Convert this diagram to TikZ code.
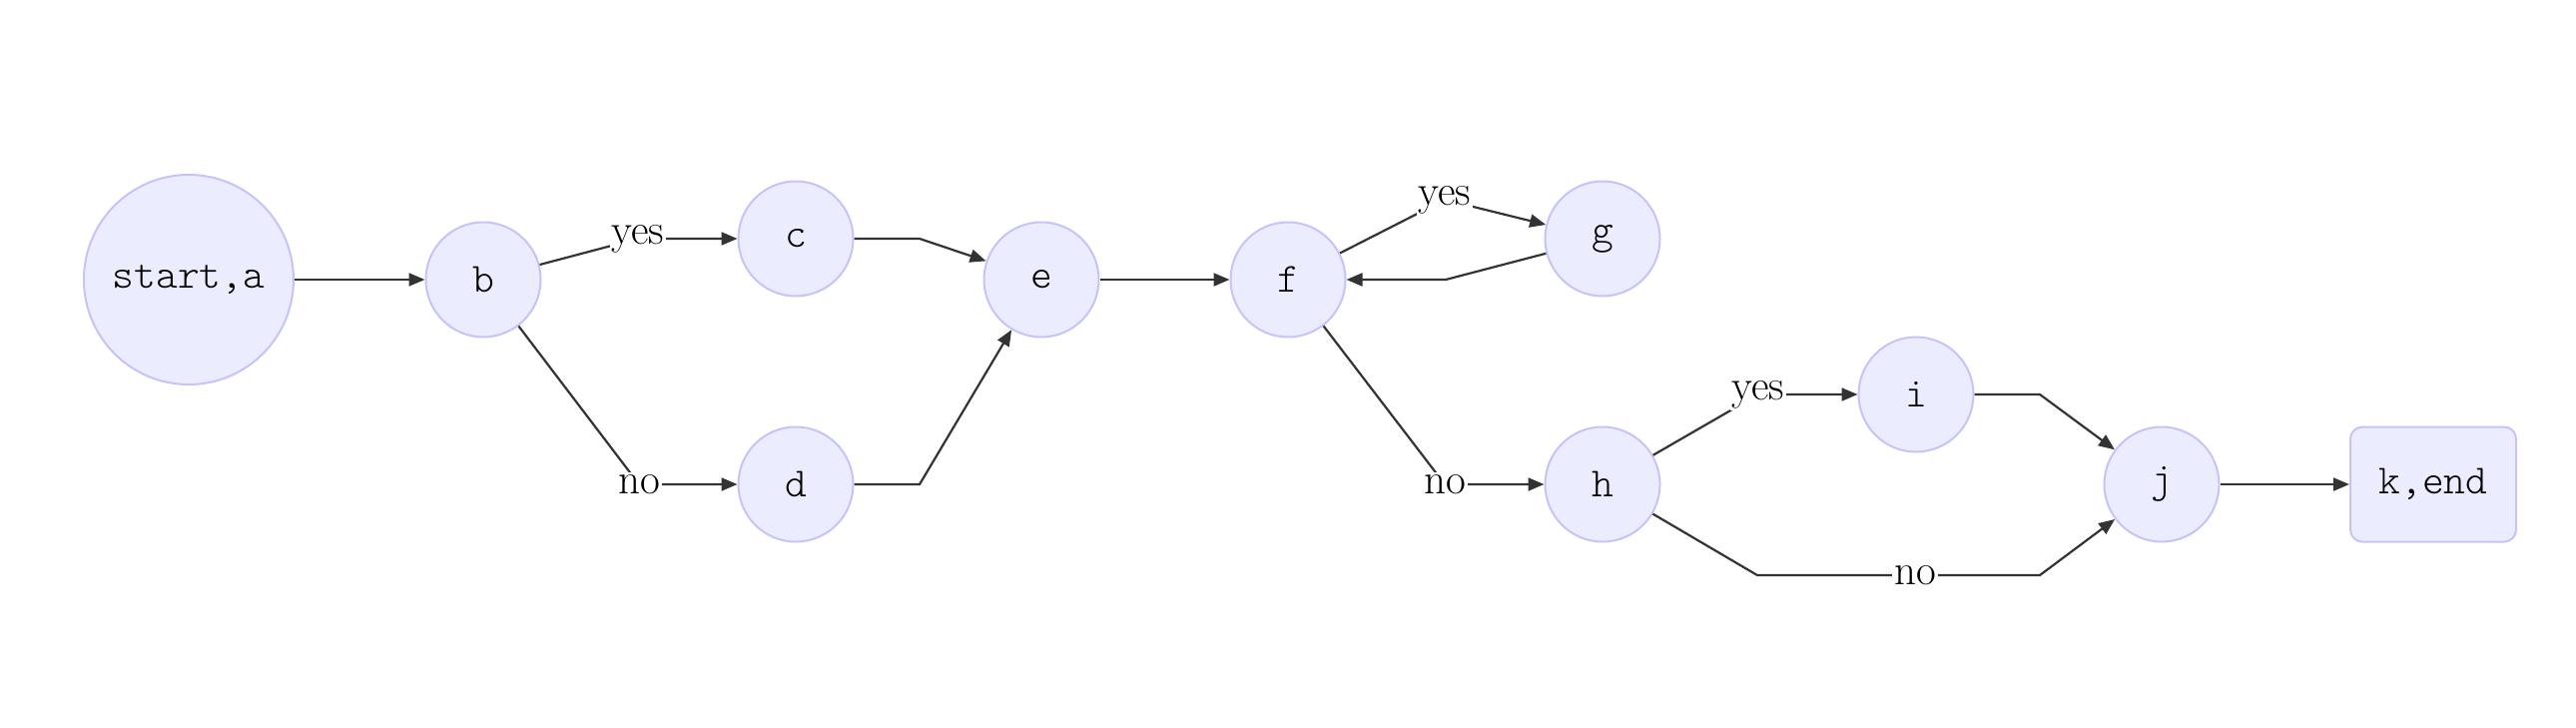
\documentclass[tikz,border=0pt]{standalone}
\usepackage{fontspec}
\setmonofont{Latin Modern Mono Light}
\usetikzlibrary{arrows.meta}
\definecolor{nodefill}{HTML}{ECECFF}
\definecolor{nodeline}{HTML}{C4C4FB}
\definecolor{edgecol}{HTML}{333333}
\tikzset{
  statenode/.style={circle, fill=nodefill, draw=nodeline, line width=2pt, inner sep=0pt,
    minimum size=115pt, font=\ttfamily\fontsize{41.5}{44}\selectfont},
  bignode/.style={statenode, minimum size=210pt},
  endnode/.style={rectangle, rounded corners=12pt, fill=nodefill, draw=nodeline, line width=2pt,
    minimum width=166pt, minimum height=115pt, inner sep=0pt, font=\ttfamily\fontsize{41.5}{44}\selectfont},
  edge/.style={draw=edgecol, line width=2.2pt, -{Triangle[length=16pt,width=13pt]}},
  elabel/.style={fill=white, inner sep=2pt, font=\fontsize{43}{46}\selectfont}
}
\begin{document}
\begin{tikzpicture}[x=1pt,y=-1pt]
\useasboundingbox (0,0) rectangle (2580,728);
% nodes
\node[bignode] (a) at (189,280) {start,a};
\node[statenode] (b) at (484,280) {b};
\node[statenode] (c) at (797,239) {c};
\node[statenode] (d) at (797,485) {d};
\node[statenode] (e) at (1043,280) {e};
\node[statenode] (f) at (1290,280) {f};
\node[statenode] (g) at (1605,239) {g};
\node[statenode] (h) at (1605,485) {h};
\node[statenode] (i) at (1919,395) {i};
\node[statenode] (j) at (2165,485) {j};
\node[endnode] (k) at (2437,485) {k,end};
% bend coordinates
\coordinate (bc) at (639,239);
\coordinate (bd) at (640,485);
\coordinate (ce) at (921,239);
\coordinate (de) at (921,485);
\coordinate (fg) at (1447,200);
\coordinate (gf) at (1448,280);
\coordinate (fh) at (1447,485);
\coordinate (hi) at (1761,395);
\coordinate (ij) at (2043,395);
\coordinate (hj1) at (1760,576);
\coordinate (hj2) at (2043,576);
\coordinate (hjl) at (1918,576);
% edges
\draw[edge] (a) -- (b);
\draw[edge] (b) -- (bc) -- (c);
\draw[edge] (b) -- (bd) -- (d);
\draw[edge] (c.east) -- (ce) -- (e);
\draw[edge] (d.east) -- (de) -- (e);
\draw[edge] (e) -- (f);
\draw[edge] (f) -- (fg) -- (g);
\draw[edge] (g) -- (gf) -- (f.east);
\draw[edge] (f) -- (fh) -- (h);
\draw[edge] (h) -- (hi) -- (i);
\draw[edge] (i.east) -- (ij) -- (j);
\draw[edge] (h) -- (hj1) -- (hj2) -- (j);
\draw[edge] (j) -- (k);
% labels
\node[elabel] (lbc) at (bc) {yes};
\node[elabel] (lbd) at (bd) {no};
\node[elabel] (lfg) at (fg) {yes};
\node[elabel] (lfh) at (fh) {no};
\node[elabel] (lhi) at (hi) {yes};
\node[elabel] (lhj) at (hjl) {no};
\end{tikzpicture}
\end{document}
